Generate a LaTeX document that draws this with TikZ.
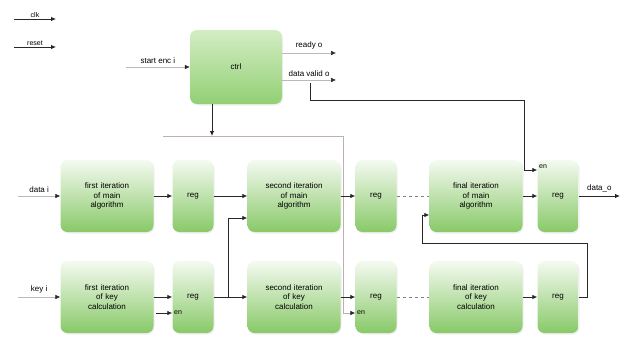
\documentclass[tikz,border=0pt]{standalone}
\usepackage{fontspec}
\setmainfont{Liberation Sans}
\usetikzlibrary{shadows,arrows.meta}

\definecolor{boxtop}{RGB}{245,250,241}
\definecolor{boxbot}{RGB}{136,201,104}
\definecolor{ctrltop}{RGB}{212,237,196}
\definecolor{ctrlbot}{RGB}{146,208,116}
\definecolor{wire}{RGB}{40,40,40}
\definecolor{bus}{RGB}{190,176,174}

\tikzstyle{algo} = [rectangle, rounded corners=7pt, minimum width=93pt, minimum height=72pt, text width=84pt, align=center, top color=boxtop, bottom color=boxbot, drop shadow={opacity=.12,shadow xshift=1pt,shadow yshift=-1.5pt}]
\tikzstyle{register} = [algo, minimum width=41pt, text width=32pt]
\tikzstyle{control} = [algo, minimum width=92pt, minimum height=74pt, top color=ctrltop, bottom color=ctrlbot]
\tikzstyle{sig} = [-{Latex[length=5pt,width=4.5pt,color=wire]}, draw=wire, line width=.8pt]
\tikzstyle{lightsig} = [-{Latex[length=5pt,width=4.5pt,color=wire]}, draw=gray!55, line width=.5pt]
\tikzstyle{enline} = [draw=bus, line width=.7pt]
\tikzstyle{lbl} = [inner sep=1.5pt, font=\fontsize{7}{8}\selectfont]

\begin{document}
\begin{tikzpicture}[x=1pt, y=-1pt, node distance=100pt, font=\fontsize{8}{9.5}\selectfont]
\useasboundingbox (0,0) rectangle (622,343);

%Control
\node (ctrl) [control] at (236,67) {ctrl};

%Main algorithm
\node (M1) [algo] at (107,196) {first iteration\\of main\\algorithm};
\node (R1) [register, right of=M1, node distance=86pt] {reg};
\node (M2) [algo, right of=R1, node distance=101pt] {second iteration\\of main\\algorithm};
\node (R2) [register, right of=M2, node distance=82pt] {reg};
\node (M3) [algo, right of=R2, node distance=100pt] {final iteration\\of main\\algorithm};
\node (R3) [register, right of=M3, node distance=82pt] {reg};

%Key calculation
\node (K1) [algo, below of=M1, node distance=101pt] {first iteration\\of key\\calculation};
\node (KR1) [register, below of=R1, node distance=101pt] {reg};
\node (K2) [algo, below of=M2, node distance=101pt] {second iteration\\of key\\calculation};
\node (KR2) [register, below of=R2, node distance=101pt] {reg};
\node (K3) [algo, below of=M3, node distance=101pt] {final iteration\\of key\\calculation};
\node (KR3) [register, below of=R3, node distance=101pt] {reg};

%Free ends
\coordinate (clkin) at (14,19);
\coordinate (clkout) at (56,19);
\coordinate (rstin) at (14,47);
\coordinate (rstout) at (56,47);
\coordinate (sin) at (126,67);
\coordinate (rdy) at (336,53);
\coordinate (dvout) at (336,80);
\coordinate (dvtap) at (310,83);
\coordinate (dvturn) at (524,100);
\coordinate (din) at (18,196);
\coordinate (kin) at (18,297);
\coordinate (dout) at (620,196);
\coordinate (busl) at (163,136);
\coordinate (busr) at (343,136);
\coordinate (en1) at (156,313);
\coordinate (fb) at (422,243);

%Global signals
\draw [sig] (clkin) -- node[above,lbl] {clk} (clkout);
\draw [sig] (rstin) -- node[above,lbl] {reset} (rstout);

%Control signals
\draw [lightsig] (sin) -- node[above] {start enc i} (ctrl);
\draw [lightsig] ([yshift=14pt]ctrl.east) -- node[above] {ready o} (rdy);
\draw [lightsig] ([yshift=-13pt]ctrl.east) -- node[above] {data valid o} (dvout);
\draw [sig] (dvtap) |- (dvturn) |- ([yshift=26pt]R3.west) node[lbl,above right] {en};
\draw [sig] ([xshift=-24pt]ctrl.south) -- ([xshift=-24pt]ctrl.south |- busl);
\draw [enline] (busl) -- (busr);
\draw [enline,-{Latex[length=5pt,width=4.5pt,color=wire]}] (busr) |- ([yshift=-16pt]KR2.west) node[lbl,right] {en};
\draw [sig] (en1) -- ([yshift=-16pt]KR1.west) node[lbl,right] {en};

%Data path
\draw [lightsig] (din) -- node[above] {data i} (M1);
\draw [sig] (M1) -- (R1);
\draw [sig] (R1) -- (M2);
\draw [sig] (M2) -- (R2);
\draw [dashed,draw=gray,line width=.6pt] (R2) -- (M3);
\draw [sig] (M3) -- (R3);
\draw [sig] (R3) -- node[above] {data\_o} (dout);

%Key path
\draw [lightsig] (kin) -- node[above] {key i} (K1);
\draw [sig] (K1) -- (KR1);
\draw [sig] (KR1) -- (K2);
\draw [sig] ([xshift=15pt]KR1.east) |- ([yshift=-22pt]M2.west);
\draw [sig] (K2) -- (KR2);
\draw [dashed,draw=gray,line width=.6pt] (KR2) -- (K3);
\draw [sig] (K3) -- (KR3);
\draw [sig] (KR3.east) -- ++(9,0) |- (fb) |- ([yshift=-19pt]M3.west);

\end{tikzpicture}
\end{document}
